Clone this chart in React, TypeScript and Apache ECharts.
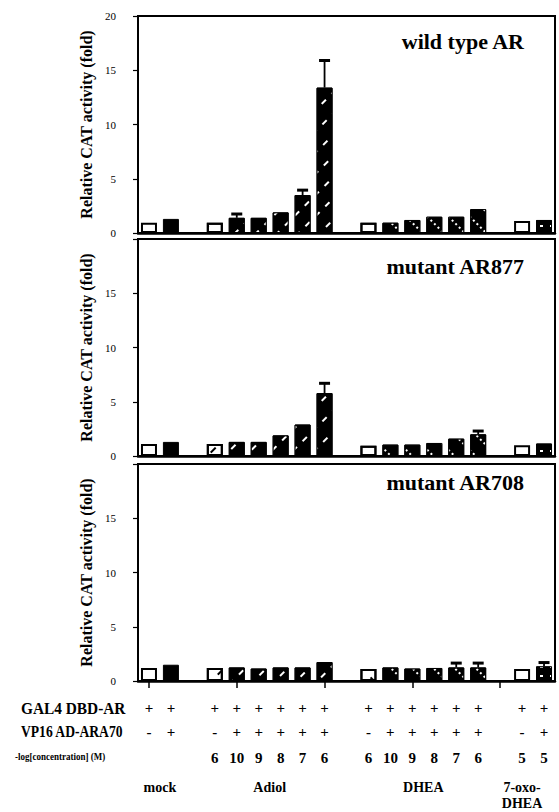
import React, { useEffect, useRef } from 'react';
import * as echarts from 'echarts';

// ---- data ----
const categories = [
  'mock-a', 'mock-b', 'gap-1',
  'Adiol-a', 'Adiol-10', 'Adiol-9', 'Adiol-8', 'Adiol-7', 'Adiol-6', 'gap-2',
  'DHEA-a', 'DHEA-10', 'DHEA-9', 'DHEA-8', 'DHEA-7', 'DHEA-6', 'gap-3',
  'oxo-a', 'oxo-b',
];
const groups = [
  'mock', 'mock', '',
  'Adiol', 'Adiol', 'Adiol', 'Adiol', 'Adiol', 'Adiol', '',
  'DHEA', 'DHEA', 'DHEA', 'DHEA', 'DHEA', 'DHEA', '',
  'oxo', 'oxo',
];
const gal4Row = ['+', '+', '', '+', '+', '+', '+', '+', '+', '', '+', '+', '+', '+', '+', '+', '', '+', '+'];
const vp16Row = ['-', '+', '', '-', '+', '+', '+', '+', '+', '', '-', '+', '+', '+', '+', '+', '', '-', '+'];
const concRow = ['', '', '', '6', '10', '9', '8', '7', '6', '', '6', '10', '9', '8', '7', '6', '', '5', '5'];

const groupLabels = ['mock', 'Adiol', 'DHEA', '7-oxo-\nDHEA'];
const groupLabelPos = [1, 6, 13, 17.5];

const panelTitles = ['wild type AR', 'mutant AR877', 'mutant AR708'];
const yAxisName = 'Relative CAT activity (fold)';
const yTicks = [0, 5, 10, 15, 20];

const wildType = [0.95, 1.3, null, 0.95, 1.4, 1.4, 1.9, 3.5, 13.4, null, 0.95, 0.95, 1.2, 1.5, 1.5, 2.2, null, 1.1, 1.2];
const wildTypeErr = [null, null, null, null, 1.75, null, null, 3.95, 15.9, null, null, null, null, null, null, null, null, null, null];

const ar877 = [1.1, 1.3, null, 1.1, 1.3, 1.3, 1.9, 2.9, 5.8, null, 0.95, 1.05, 1.05, 1.2, 1.6, 2.0, null, 1.0, 1.15];
const ar877Err = [null, null, null, null, null, null, null, null, 6.7, null, null, null, null, null, null, 2.3, null, null, null];

const ar708 = [1.2, 1.5, null, 1.2, 1.25, 1.15, 1.25, 1.25, 1.75, null, 1.1, 1.25, 1.15, 1.2, 1.25, 1.25, null, 1.1, 1.35];
const ar708Err = [null, null, null, null, null, null, null, null, null, null, null, null, null, null, 1.65, 1.65, null, null, 1.7];

const panelValues = [wildType, ar877, ar708];
const panelErrors = [wildTypeErr, ar877Err, ar708Err];

// ---- styles ----
const FONT = "'Liberation Serif', 'DejaVu Serif', serif";
const GRID_LEFT = 138;
const GRID_WIDTH = 417;
const GRID_TOPS = [16, 239, 464];
const GRID_HEIGHT = 217;

const solidDecal: Record<string, any> = {
  Adiol: { symbol: 'rect', symbolSize: 1, color: '#fff', dashArrayX: [6, 8], dashArrayY: [1.6, 13], rotation: -Math.PI / 4 },
  DHEA: { symbol: 'rect', symbolSize: 1, color: '#fff', dashArrayX: [2, 3], dashArrayY: [1.8, 13], rotation: Math.PI / 4 },
  oxo: { symbol: 'rect', symbolSize: 1, color: '#fff', dashArrayX: [3, 7], dashArrayY: [2, 7], rotation: 0 },
};
const openDecal: Record<string, any> = {
  Adiol: { symbol: 'rect', symbolSize: 1, color: '#000', dashArrayX: [7, 12], dashArrayY: [1.6, 16], rotation: -Math.PI / 4 },
  DHEA: { symbol: 'rect', symbolSize: 1, color: '#000', dashArrayX: [7, 12], dashArrayY: [1.6, 16], rotation: Math.PI / 4 },
};

function itemStyleFor(i: number) {
  const g = groups[i];
  if (vp16Row[i] === '-') {
    const s: any = { color: '#fff', borderColor: '#000', borderWidth: 2 };
    if (openDecal[g]) s.decal = openDecal[g];
    return s;
  }
  const s: any = { color: '#000', borderColor: '#000', borderWidth: 1 };
  if (solidDecal[g]) s.decal = solidDecal[g];
  return s;
}

function buildOption() {
  const grids = GRID_TOPS.map((t) => ({
    left: GRID_LEFT, top: t, width: GRID_WIDTH, height: GRID_HEIGHT,
    show: true, borderColor: '#000', borderWidth: 2, backgroundColor: 'transparent',
  }));

  const mainX = GRID_TOPS.map((_, p) => ({
    type: 'category', gridIndex: p, data: categories, boundaryGap: true,
    axisLine: { show: true, onZero: false, lineStyle: { color: '#000', width: 2.5 } },
    axisTick: { show: p === 2, alignWithLabel: true, length: 7, lineStyle: { color: '#000', width: 1.5 } },
    axisLabel: { show: false }, splitLine: { show: false },
  }));

  const rowAxis = (labels: string[], offset: number, fontSize: number) => ({
    type: 'category', gridIndex: 2, data: categories, position: 'bottom', offset, boundaryGap: true,
    axisLine: { show: false }, axisTick: { show: false }, splitLine: { show: false },
    axisLabel: {
      show: true, interval: 0, margin: 0, verticalAlign: 'middle', color: '#000',
      fontFamily: FONT, fontWeight: 'bold', fontSize,
      formatter: (_v: string, i: number) => labels[i],
    },
  });

  const groupAxis = {
    type: 'value', gridIndex: 2, position: 'bottom', offset: 98, min: 0, max: categories.length, interval: 0.5,
    axisLine: { show: false }, axisTick: { show: false }, splitLine: { show: false },
    axisLabel: {
      show: true, margin: 0, verticalAlign: 'top', lineHeight: 16, color: '#000',
      fontFamily: FONT, fontWeight: 'bold', fontSize: 14,
      formatter: (v: number) => {
        const k = groupLabelPos.indexOf(v);
        return k >= 0 ? groupLabels[k] : '';
      },
    },
  };

  const yAxes = GRID_TOPS.map((_, p) => ({
    type: 'value', gridIndex: p, min: yTicks[0], max: yTicks[yTicks.length - 1], interval: yTicks[1] - yTicks[0],
    name: yAxisName, nameLocation: 'middle', nameGap: 34,
    nameTextStyle: { fontFamily: FONT, fontWeight: 'bold', fontSize: 16, color: '#000' },
    axisLine: { show: true, lineStyle: { color: '#000', width: 2 } },
    axisTick: { show: true, length: 5, lineStyle: { color: '#000', width: 1.2 } },
    axisLabel: {
      margin: 22, fontSize: 11, color: '#000', fontFamily: FONT,
      formatter: (v: number) => (p > 0 && v === yTicks[yTicks.length - 1] ? '' : String(v)),
    },
    splitLine: { show: false },
  }));

  const series: any[] = [];
  panelValues.forEach((vals, p) => {
    series.push({
      type: 'bar', xAxisIndex: p, yAxisIndex: p, barWidth: 16,
      data: vals.map((v, i) => (v == null ? null : { value: v, itemStyle: itemStyleFor(i) })),
      z: 2,
    });
    const errs = panelErrors[p];
    const errData = errs
      .map((e, i) => (e == null ? null : [i, vals[i], e]))
      .filter((d) => d !== null);
    series.push({
      type: 'custom', xAxisIndex: p, yAxisIndex: p, z: 3,
      encode: { x: 0, y: [1, 2] },
      data: errData,
      renderItem: (_params: any, api: any) => {
        const x = api.value(0);
        const p0 = api.coord([x, api.value(1)]);
        const p1 = api.coord([x, api.value(2)]);
        return {
          type: 'group',
          children: [
            { type: 'line', shape: { x1: p0[0], y1: p0[1], x2: p1[0], y2: p1[1] }, style: { stroke: '#000', lineWidth: 1.8 } },
            { type: 'line', shape: { x1: p1[0] - 5.5, y1: p1[1], x2: p1[0] + 5.5, y2: p1[1] }, style: { stroke: '#000', lineWidth: 3 } },
          ],
        };
      },
    });
  });

  const titleY = [41, 266, 482];
  const titleRight = [524, 524, 524];
  const graphic: any[] = panelTitles.map((t, p) => ({
    type: 'text', x: titleRight[p], y: titleY[p],
    style: { text: t, align: 'right', verticalAlign: 'middle', fill: '#000', font: `bold 22px ${FONT}` },
  }));
  const rowHeaders = [
    { text: 'GAL4 DBD-AR', x: 21, y: 708, size: 16, sx: 0.96 },
    { text: 'VP16 AD-ARA70', x: 21, y: 732, size: 16, sx: 0.85 },
    { text: '-log[concentration] (M)', x: 15, y: 756, size: 11, sx: 0.82 },
  ];
  rowHeaders.forEach((r) => {
    graphic.push({
      type: 'text', x: r.x, y: r.y, scaleX: r.sx,
      style: { text: r.text, align: 'left', verticalAlign: 'middle', fill: '#000', font: `bold ${r.size}px ${FONT}` },
    });
  });

  return {
    animation: false,
    backgroundColor: '#fff',
    grid: grids,
    xAxis: [...mainX, rowAxis(gal4Row, 27, 15), rowAxis(vp16Row, 51, 15), rowAxis(concRow, 77, 15), groupAxis],
    yAxis: yAxes,
    series,
    graphic,
  };
}

export default function App() {
  const ref = useRef<HTMLDivElement>(null);
  useEffect(() => {
    if (!ref.current) return;
    const chart = echarts.init(ref.current, undefined, { renderer: 'svg' });
    chart.setOption(buildOption() as any);
    return () => chart.dispose();
  }, []);
  return <div ref={ref} style={{ position: 'absolute', left: 0, top: 0, width: 559, height: 812 }} />;
}
